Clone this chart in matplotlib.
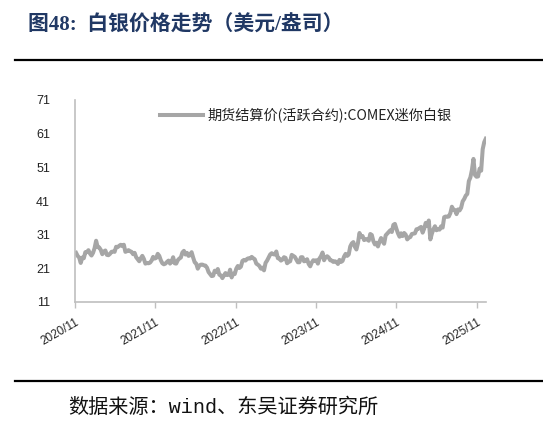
import matplotlib
matplotlib.use("Agg")
import matplotlib.pyplot as plt
import pandas as pd

# ---- data (weekly settlement prices, USD/oz) ----
v2020 = [25.6, 24.7, 24.2, 22.6, 24.2, 24.0, 25.8, 25.8]
v2021 = [26.4, 25.4, 24.8, 25.6, 27.0, 29.2, 27.3, 27.2, 26.5, 25.2,
         26.0, 26.3, 25.0, 24.9, 25.3, 25.9, 26.0, 25.9, 27.4, 27.3,
         27.7, 28.0, 27.6, 28.0, 25.9, 26.1, 26.4, 26.1, 25.9, 25.2,
         25.6, 24.3, 23.7, 23.1, 24.0, 24.7, 23.8, 22.4, 22.6, 22.5,
         22.7, 23.3, 24.4, 23.9, 24.1, 25.3, 24.7, 23.4, 22.5, 22.2,
         22.4, 22.9, 23.3]
v2022 = [22.4, 23.0, 24.3, 22.5, 22.4, 23.4, 23.9, 24.2, 25.7, 26.2,
         25.1, 25.6, 24.7, 24.9, 25.8, 24.2, 22.8, 22.4, 20.9, 21.8,
         22.1, 22.1, 21.9, 21.8, 21.2, 19.9, 19.3, 18.7, 18.8, 20.3,
         19.9, 20.8, 19.1, 18.9, 18.1, 18.9, 19.6, 19.0, 19.1, 20.6,
         18.3, 19.4, 19.3, 20.9, 21.7, 21.1, 21.5, 23.2, 23.5, 23.3,
         23.8, 24.0]
v2023 = [23.9, 24.4, 24.0, 23.7, 22.4, 22.1, 21.7, 20.9, 21.2, 20.4,
         22.6, 23.3, 24.2, 25.1, 25.5, 25.2, 25.1, 26.0, 24.0, 23.9,
         23.3, 23.6, 24.3, 24.1, 22.5, 22.9, 23.1, 25.0, 24.7, 24.4,
         23.6, 22.8, 22.8, 24.3, 24.3, 23.1, 23.2, 23.7, 22.3, 21.6,
         22.7, 23.4, 23.2, 23.4, 22.4, 23.9, 24.6, 25.7, 23.4, 24.3,
         24.6, 24.2]
v2024 = [23.4, 23.3, 22.9, 23.1, 22.9, 22.3, 23.5, 22.9, 23.2, 24.5,
         25.3, 24.7, 25.1, 27.5, 28.4, 28.8, 27.4, 26.6, 28.5, 31.5,
         30.4, 30.6, 29.4, 29.6, 29.7, 29.2, 31.2, 30.9, 29.1, 28.1,
         28.6, 27.5, 28.9, 30.0, 29.0, 28.3, 30.8, 31.3, 31.8, 32.3,
         31.8, 33.9, 34.2, 32.7, 31.4, 30.4, 31.4, 30.6, 31.5, 31.0,
         29.6, 30.1]
v2025 = [30.3, 31.2, 31.3, 31.4, 32.6, 32.7, 33.0, 33.3, 31.6, 32.8,
         34.5, 33.6, 35.2, 29.6, 31.3, 32.6, 33.5, 32.3, 32.7, 32.5,
         33.5, 33.1, 36.2, 36.4, 36.3, 36.4, 37.4, 39.3, 38.4, 38.3,
         37.1, 38.5, 38.2, 39.0, 40.9, 41.6, 42.6, 43.1, 46.9, 48.0,
         50.2, 53.5, 48.7, 48.2, 48.3, 50.6, 50.0, 56.4, 58.5, 59.5]

prices = v2020 + v2021 + v2022 + v2023 + v2024 + v2025
dates = pd.date_range("2020-11-06", periods=len(prices), freq="W-FRI")

yticks = [11, 21, 31, 41, 51, 61, 71]
xtick_labels = ["2020/11", "2021/11", "2022/11", "2023/11", "2024/11", "2025/11"]
xtick_dates = pd.to_datetime(["2020-11-01", "2021-11-01", "2022-11-01",
                              "2023-11-01", "2024-11-01", "2025-11-01"])

title = "图48:  白银价格走势（美元/盎司）"
series_name = "期货结算价(活跃合约):COMEX迷你白银"
source = "数据来源：wind、东吴证券研究所"

W, H = 543, 426
fig = plt.figure(figsize=(W / 100, H / 100), dpi=100)

def fx(px):
    return px / W

def fy(py):
    return 1 - py / H

ax = fig.add_axes([fx(75), fy(302), fx(486) - fx(75), fy(100) - fy(302)])
line_color = "#a6a6a6"
ax.plot(dates, prices, color=line_color, lw=2.9, solid_joinstyle="round",
        label=series_name)

ax.set_ylim(11, 71)
ax.set_yticks(yticks)
ax.set_xlim(pd.Timestamp("2020-11-01"), pd.Timestamp("2025-12-13"))
ax.set_xticks(xtick_dates)
ax.set_xticklabels(xtick_labels, rotation=30, ha="right", rotation_mode="anchor")

for s in ["top", "right"]:
    ax.spines[s].set_visible(False)
for s in ["left", "bottom"]:
    ax.spines[s].set_color("#bfbfbf")
    ax.spines[s].set_linewidth(1.2)

ax.tick_params(axis="y", length=0, pad=18, labelsize=9, labelcolor="#222222")
ax.tick_params(axis="x", length=4, width=1, color="#bfbfbf", direction="out",
               pad=6, labelsize=8.5, labelcolor="#222222")
for lab in ax.get_xticklabels() + ax.get_yticklabels():
    lab.set_fontfamily(["Liberation Sans", "DejaVu Sans"])

leg = ax.legend(loc="upper left", bbox_to_anchor=(fx(160), fy(108)),
                bbox_transform=fig.transFigure, borderaxespad=0, borderpad=0,
                frameon=False, handlelength=3.0, handletextpad=0.35,
                prop={"family": ["Noto Sans CJK SC", "DejaVu Sans"], "size": 10.2})
for t in leg.get_texts():
    t.set_color("#222222")

# title and rules
fig.text(fx(28), fy(26), title, fontsize=15, fontweight="bold", color="#203864",
         family=["Liberation Serif", "Noto Sans CJK SC"], va="center", ha="left")
fig.add_artist(plt.Line2D([fx(15), fx(543)], [fy(60), fy(60)], color="black", lw=1.6))
fig.add_artist(plt.Line2D([fx(15), fx(543)], [fy(381), fy(381)], color="black", lw=1.6))
fig.text(fx(68), fy(407), source, fontsize=14.5, color="#111111",
         family=["Liberation Mono", "Noto Sans CJK SC"], va="center", ha="left")

fig.savefig("out.png", dpi=100)
